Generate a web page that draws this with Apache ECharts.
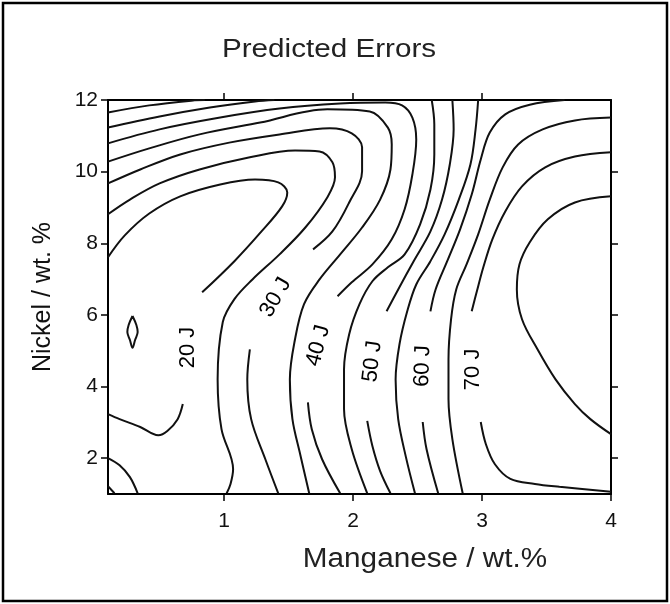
<!DOCTYPE html>
<html>
<head>
<meta charset="utf-8">
<script src="https://cdn.jsdelivr.net/npm/echarts@6/dist/echarts.min.js"></script>
<style>
  html, body { margin: 0; padding: 0; background: #fff; }
  #chart { width: 670px; height: 604px; }
</style>
</head>
<body>
<div id="chart"></div>
<script>
// contour lines, [Mn wt.%, Ni wt.%]
var c15Loop = [[0.29,5.97],[0.32,5.72],[0.33,5.52],[0.31,5.30],[0.29,5.08],[0.27,5.30],[0.25,5.52],[0.26,5.72],[0.29,5.97]];
var c20Upper = [[0.10,7.61],[0.23,8.22],[0.42,8.83],[0.66,9.31],[0.97,9.64],[1.24,9.78],[1.42,9.70],[1.49,9.42],[1.45,9.03],[1.29,8.33],[1.08,7.50],[0.83,6.63]];
var c20Lower = [[0.68,3.51],[0.64,3.09],[0.56,2.76],[0.49,2.64],[0.35,2.87],[0.19,3.09],[0.10,3.23]];
var c25Corner = [[0.10,2.00],[0.19,1.80],[0.27,1.47],[0.33,1.02]];
var c30Corner = [[0.10,1.22],[0.15,1.02]];
var c25 = [[0.10,8.81],[0.27,9.22],[0.50,9.67],[0.81,10.06],[1.20,10.40],[1.55,10.59],[1.74,10.56],[1.84,10.26],[1.86,9.84],[1.80,9.28],[1.63,8.44],[1.43,7.69],[1.22,6.99],[1.08,6.44],[0.99,5.80],[0.95,4.20],[0.98,2.81],[1.07,1.69],[1.05,1.28],[1.02,1.02]];
var c30Upper = [[0.10,9.67],[0.35,10.06],[0.66,10.48],[1.04,10.81],[1.43,11.04],[1.82,11.21],[1.99,11.07],[2.07,10.68],[2.07,10.01],[1.97,9.14],[1.84,8.33],[1.69,7.83]];
var c30Lower = [[1.20,5.04],[1.18,4.20],[1.21,3.09],[1.32,1.97],[1.42,1.02]];
var c35 = [[0.10,10.28],[0.42,10.65],[0.81,11.04],[1.28,11.37],[1.80,11.74],[2.13,11.68],[2.27,11.23],[2.30,10.76],[2.29,10.06],[2.21,9.22],[2.07,8.44],[1.90,7.69],[1.74,6.99],[1.62,6.30],[1.55,5.32],[1.51,4.20],[1.53,3.09],[1.59,2.11],[1.66,1.02]];
var c40Upper = [[0.10,10.79],[0.50,11.18],[0.97,11.51],[1.43,11.76],[1.90,11.90],[2.25,11.93],[2.38,11.85],[2.46,11.51],[2.49,10.90],[2.46,9.92],[2.40,8.95],[2.30,8.11],[2.15,7.41],[1.99,6.91],[1.88,6.52]];
var c40Lower = [[1.65,3.56],[1.68,2.81],[1.76,1.97],[1.90,1.02]];
var c45Left = [[0.10,11.23],[0.50,11.54],[0.89,11.79],[1.24,11.96],[1.39,12.0]];
var c45Right = [[2.61,12.0],[2.63,11.32],[2.63,10.48],[2.60,9.50],[2.52,8.53],[2.40,7.69],[2.27,7.33],[2.15,6.94],[2.05,6.30],[1.97,5.46],[1.93,4.48],[1.93,3.37],[1.99,2.25],[2.11,1.02]];
var c50Left = [[0.10,11.65],[0.42,11.85],[0.77,11.99],[0.85,12.0]];
var c50Upper = [[2.77,12.0],[2.78,11.18],[2.75,10.20],[2.69,9.22],[2.60,8.33],[2.47,7.50],[2.35,6.71],[2.26,6.10]];
var c50Lower = [[2.11,3.04],[2.15,2.34],[2.21,1.64],[2.29,1.02]];
var c55 = [[2.97,12.0],[2.95,11.18],[2.91,10.20],[2.82,9.22],[2.71,8.25],[2.60,7.50],[2.49,6.85],[2.42,6.10],[2.36,5.18],[2.33,4.20],[2.35,3.09],[2.41,2.03],[2.48,1.02]];
var c60Upper = [[3.64,12.0],[3.37,11.87],[3.18,11.60],[3.06,11.09],[2.99,10.34],[2.92,9.36],[2.83,8.39],[2.73,7.50],[2.64,6.71],[2.60,6.10]];
var c60Lower = [[2.54,3.01],[2.57,2.25],[2.66,1.02]];
var c65 = [[4.0,11.51],[3.72,11.43],[3.47,11.18],[3.28,10.76],[3.16,10.12],[3.06,9.22],[2.97,8.25],[2.88,7.41],[2.80,6.71],[2.76,5.88],[2.74,4.76],[2.74,3.65],[2.77,2.53],[2.85,1.02]];
var c70Upper = [[4.0,10.54],[3.72,10.42],[3.49,10.12],[3.31,9.59],[3.18,8.89],[3.08,8.11],[3.01,7.33],[2.96,6.66],[2.92,6.10]];
var c70Lower = [[2.99,3.01],[3.03,2.39],[3.10,1.83],[3.22,1.42],[3.41,1.28],[3.60,1.20],[4.0,1.06]];
var c75 = [[4.0,9.31],[3.72,9.14],[3.51,8.67],[3.37,8.03],[3.29,7.41],[3.27,6.71],[3.31,5.88],[3.43,5.04],[3.57,4.20],[3.72,3.51],[3.84,3.09],[4.0,2.67]];

// contour labels
var labelText = ['20 J', '30 J', '40 J', '50 J', '60 J', '70 J'];
var labelMn = [0.72, 1.40, 1.73, 2.15, 2.54, 2.93];
var labelNi = [5.09, 6.49, 5.14, 4.70, 4.57, 4.48];

var xTicks = [1, 2, 3, 4];
var yTicks = [2, 4, 6, 8, 10, 12];

var labelAngle = [90, 60, 75, 83, 88, 90];

var segments = [c15Loop, c20Upper, c20Lower, c25Corner, c30Corner, c25, c30Upper, c30Lower,
    c35, c40Upper, c40Lower, c45Left, c45Right, c50Left, c50Upper, c50Lower, c55,
    c60Upper, c60Lower, c65, c70Upper, c70Lower, c75];

var font = 'Liberation Sans, Arial, sans-serif';
var ink = '#111';

var chart = echarts.init(document.getElementById('chart'));

var series = segments.map(function (d) {
    return {
        type: 'line',
        data: d,
        smooth: 0.35,
        symbol: 'none',
        silent: true,
        lineStyle: { color: ink, width: 2 }
    };
});
// the "xx J" tags along the contours
series.push({
    type: 'scatter',
    symbolSize: 0,
    silent: true,
    itemStyle: { opacity: 1 },
    data: labelMn.map(function (m, i) {
        return { value: [m, labelNi[i]], label: { rotate: labelAngle[i] } };
    }),
    label: {
        show: true,
        position: 'inside',
        formatter: function (p) { return labelText[p.dataIndex]; },
        fontFamily: font,
        fontSize: 22,
        color: '#000',
        opacity: 1,
        textBorderWidth: 0
    }
});

var axisLine = { onZero: false, lineStyle: { color: '#000', width: 2 } };
var tickStyle = { color: '#000', width: 1.5 };

chart.setOption({
    animation: false,
    backgroundColor: '#fff',
    grid: { left: 108, right: 59, top: 100, bottom: 110 },
    xAxis: [{
        type: 'value', min: 0.1, max: 4, position: 'bottom',
        axisLine: axisLine,
        axisTick: { customValues: xTicks, length: 7, lineStyle: tickStyle },
        axisLabel: { customValues: xTicks, fontSize: 21, margin: 17, color: ink, fontFamily: font },
        splitLine: { show: false }
    }, {
        type: 'value', min: 0.1, max: 4, position: 'top',
        axisLine: axisLine,
        axisTick: { customValues: [1, 2, 3], length: 7, lineStyle: tickStyle },
        axisLabel: { show: false },
        splitLine: { show: false }
    }],
    yAxis: [{
        type: 'value', min: 1, max: 12, position: 'left',
        name: 'Nickel / wt. %', nameLocation: 'middle', nameGap: 52, nameRotate: 90,
        nameTextStyle: { fontSize: 25, color: ink, fontFamily: font },
        axisLine: axisLine,
        axisTick: { customValues: yTicks, length: 7, lineStyle: tickStyle },
        axisLabel: { customValues: yTicks, fontSize: 21, margin: 10, color: ink, fontFamily: font },
        splitLine: { show: false }
    }, {
        type: 'value', min: 1, max: 12, position: 'right',
        axisLine: axisLine,
        axisTick: { customValues: [2, 4, 6, 8, 10], length: 7, lineStyle: tickStyle },
        axisLabel: { show: false },
        splitLine: { show: false }
    }],
    graphic: [{
        type: 'text', x: 329, y: 50, scaleX: 1.14,
        style: { text: 'Predicted Errors', align: 'center', verticalAlign: 'middle',
            fontSize: 26, fontFamily: font, fill: '#222' }
    }, {
        type: 'text', x: 425, y: 560, scaleX: 1.1,
        style: { text: 'Manganese / wt.%', align: 'center', verticalAlign: 'middle',
            fontSize: 27, fontFamily: font, fill: '#222' }
    }, {
        type: 'rect',
        shape: { x: 3, y: 3, width: 664, height: 598 },
        style: { fill: 'none', stroke: '#000', lineWidth: 2.5 }
    }],
    series: series
});
</script>
</body>
</html>
